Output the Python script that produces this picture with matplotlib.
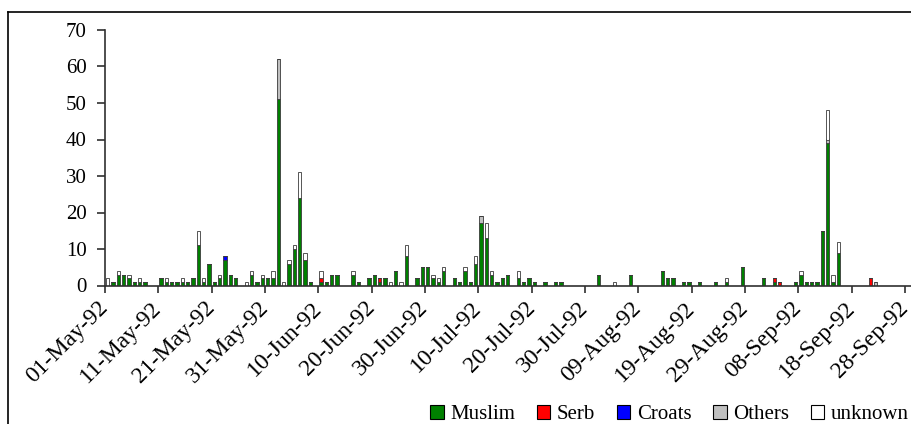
import numpy as np
import pandas as pd
import matplotlib
matplotlib.use("Agg")
import matplotlib.pyplot as plt
import matplotlib.dates as mdates
from matplotlib.patches import Patch
from matplotlib.lines import Line2D

plt.rcParams['font.family'] = ['Liberation Serif', 'DejaVu Serif']

# days with at least one victim (all other days in May-Sep 1992 are zero)
dates = ["1992-05-01", "1992-05-02", "1992-05-03", "1992-05-04", "1992-05-05", "1992-05-06",
         "1992-05-07", "1992-05-08", "1992-05-11", "1992-05-12", "1992-05-13", "1992-05-14",
         "1992-05-15", "1992-05-16", "1992-05-17", "1992-05-18", "1992-05-19", "1992-05-20",
         "1992-05-21", "1992-05-22", "1992-05-23", "1992-05-24", "1992-05-25", "1992-05-27",
         "1992-05-28", "1992-05-29", "1992-05-30", "1992-05-31", "1992-06-01", "1992-06-02",
         "1992-06-03", "1992-06-04", "1992-06-05", "1992-06-06", "1992-06-07", "1992-06-08",
         "1992-06-10", "1992-06-11", "1992-06-12", "1992-06-13", "1992-06-16", "1992-06-17",
         "1992-06-19", "1992-06-20", "1992-06-21", "1992-06-22", "1992-06-23", "1992-06-24",
         "1992-06-25", "1992-06-26", "1992-06-28", "1992-06-29", "1992-06-30", "1992-07-01",
         "1992-07-02", "1992-07-03", "1992-07-05", "1992-07-06", "1992-07-07", "1992-07-08",
         "1992-07-09", "1992-07-10", "1992-07-11", "1992-07-12", "1992-07-13", "1992-07-14",
         "1992-07-15", "1992-07-17", "1992-07-18", "1992-07-19", "1992-07-20", "1992-07-22",
         "1992-07-24", "1992-07-25", "1992-08-01", "1992-08-04", "1992-08-07", "1992-08-13",
         "1992-08-14", "1992-08-15", "1992-08-17", "1992-08-18", "1992-08-20", "1992-08-23",
         "1992-08-25", "1992-08-28", "1992-09-01", "1992-09-03", "1992-09-04", "1992-09-07",
         "1992-09-08", "1992-09-09", "1992-09-10", "1992-09-11", "1992-09-12", "1992-09-13",
         "1992-09-14", "1992-09-15", "1992-09-21", "1992-09-22"]
muslim = [0, 1, 3, 3, 2, 1, 1, 1, 2, 1, 1, 1, 1, 1, 2, 11, 1, 6,
          1, 2, 7, 3, 2, 0, 3, 1, 2, 2, 2, 51, 0, 6, 10, 24, 7, 1,
          1, 1, 3, 3, 3, 1, 2, 3, 1, 2, 0, 4, 0, 8, 2, 5, 5, 2,
          1, 4, 2, 1, 4, 1, 6, 17, 13, 3, 1, 2, 3, 2, 1, 2, 1, 1,
          1, 1, 3, 0, 3, 4, 2, 2, 1, 1, 1, 1, 1, 5, 2, 1, 0, 1,
          3, 1, 1, 1, 15, 39, 1, 9, 0, 0]
serb = [0, 0, 0, 0, 0, 0, 0, 0, 0, 0, 0, 0, 0, 0, 0, 0, 0, 0,
        0, 0, 0, 0, 0, 0, 0, 0, 0, 0, 0, 0, 0, 0, 0, 0, 0, 0,
        1, 0, 0, 0, 0, 0, 0, 0, 1, 0, 0, 0, 0, 0, 0, 0, 0, 0,
        0, 0, 0, 0, 0, 0, 0, 0, 0, 0, 0, 0, 0, 0, 0, 0, 0, 0,
        0, 0, 0, 0, 0, 0, 0, 0, 0, 0, 0, 0, 0, 0, 0, 1, 1, 0,
        0, 0, 0, 0, 0, 0, 0, 0, 2, 0]
croats = [0] * 20 + [1] + [0] * 79
others = [0] * 29 + [11] + [0] * 31 + [2] + [0] * 33 + [1] + [0] * 3 + [1]
unknown = [2, 0, 1, 0, 1, 0, 1, 0, 0, 1, 0, 0, 1, 0, 0, 4, 1, 0,
           0, 1, 0, 0, 0, 1, 1, 0, 1, 0, 2, 0, 1, 1, 1, 7, 2, 0,
           2, 0, 0, 0, 1, 0, 0, 0, 0, 0, 1, 0, 1, 3, 0, 0, 0, 1,
           1, 1, 0, 0, 1, 0, 2, 0, 4, 1, 0, 0, 0, 2, 0, 0, 0, 0,
           0, 0, 0, 1, 0, 0, 0, 0, 0, 0, 0, 0, 1, 0, 0, 0, 0, 0,
           1, 0, 0, 0, 0, 8, 2, 3, 0, 0]

groups = ["Muslim", "Serb", "Croats", "Others", "unknown"]
colors = ["#008000", "#FF0000", "#0000FF", "#C0C0C0", "#FFFFFF"]

days = pd.date_range("1992-05-01", "1992-09-30", freq="D")
df = pd.DataFrame({"Muslim": muslim, "Serb": serb, "Croats": croats,
                   "Others": others, "unknown": unknown},
                  index=pd.to_datetime(dates)).reindex(days, fill_value=0)

fig = plt.figure(figsize=(9.12, 4.24), dpi=100)
ax = fig.add_axes([105 / 912, 1 - 285.5 / 424, 816 / 912, 255.5 / 424])

x = mdates.date2num(df.index) + 0.5
bottom = np.zeros(len(df))
for g, c in zip(groups, colors):
    ax.bar(x, df[g].values, width=0.65, bottom=bottom, color=c,
           edgecolor="#3a3a3a", linewidth=0.6)
    bottom += df[g].values

ax.set_ylim(0, 70)
ax.set_yticks(range(0, 71, 10))
ax.set_xlim(mdates.date2num(pd.Timestamp("1992-05-01")),
            mdates.date2num(pd.Timestamp("1992-10-01")))
ticks = pd.date_range("1992-05-01", periods=16, freq="10D")
ax.set_xticks(mdates.date2num(ticks))
ax.set_xticklabels([t.strftime("%d-%b-%y") for t in ticks], rotation=45,
                   ha="right", va="center", rotation_mode="anchor", fontsize=17)

for s in ["top", "right"]:
    ax.spines[s].set_visible(False)
for s in ["left", "bottom"]:
    ax.spines[s].set_color("#303030")
    ax.spines[s].set_linewidth(1.2)
ax.tick_params(axis="y", length=6, width=1.2, color="#303030", pad=7, labelsize=15)
ax.tick_params(axis="x", length=5, width=1.2, color="#303030", pad=9)

# chart frame
fig.add_artist(Line2D([8 / 912, 1], [1 - 12 / 424] * 2, transform=fig.transFigure,
                      color="black", lw=1.2))
fig.add_artist(Line2D([8 / 912] * 2, [0, 1 - 12 / 424], transform=fig.transFigure,
                      color="black", lw=1.2))

handles = [Patch(facecolor=c, edgecolor="black", linewidth=0.8) for c in colors]
fig.legend(handles, groups, ncol=5, loc="lower right", bbox_to_anchor=(1.01, -0.03),
           frameon=False, fontsize=15, handlelength=0.65, handleheight=0.65,
           handletextpad=0.3, columnspacing=1.05, borderaxespad=0.2)

fig.savefig("out.png", dpi=100)
